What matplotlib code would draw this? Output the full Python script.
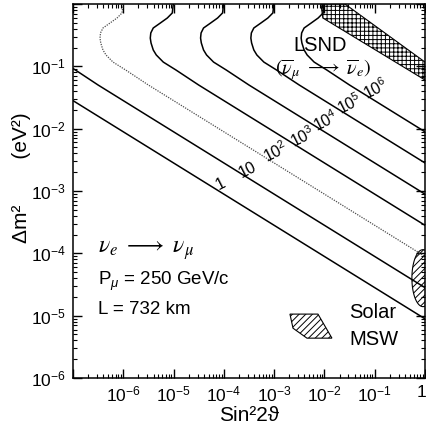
import numpy as np
import matplotlib
matplotlib.use("Agg")
import matplotlib.pyplot as plt
import matplotlib.transforms as mtransforms
from matplotlib.ticker import LogLocator, FixedLocator, FixedFormatter, NullFormatter
from matplotlib.patches import Polygon

plt.rcParams['font.family'] = ['Liberation Sans', 'DejaVu Sans']
plt.rcParams['mathtext.fontset'] = 'custom'
plt.rcParams['mathtext.rm'] = 'Liberation Sans'
plt.rcParams['mathtext.it'] = 'Liberation Sans:italic'
plt.rcParams['mathtext.sf'] = 'Liberation Sans'
plt.rcParams['hatch.linewidth'] = 0.7

# event-count contour levels
levels = [1, 10, 100, 1e3, 1e4, 1e5, 1e6]
level_labels = ['1', '10', r'$10^{2}$', r'$10^{3}$', r'$10^{4}$', r'$10^{5}$', r'$10^{6}$']

# shape of the N = 1 contour; higher levels scale linearly in sin^2(2theta)
shape_sin2 = [9.86e-9, 9.42e-9, 7.50e-9, 5.44e-9, 3.94e-9, 3.52e-9, 3.44e-9,
              3.56e-9, 3.94e-9, 4.53e-9, 6.24e-9, 1.12e-8, 3.16e-8, 1.0]
shape_dm2 = [1.0, 0.718, 0.596, 0.495, 0.412, 0.343, 0.284,
             0.237, 0.183, 0.152, 0.117, 0.0871, 0.0501, 8.9e-6]

# LSND allowed band
lsnd_sin2 = [8.5e-3, 9.3e-3, 1.0, 1.0, 0.0256]
lsnd_dm2 = [1.0, 0.596, 0.0603, 0.117, 1.0]

# solar MSW solutions
msw_small_sin2 = [2.06e-3, 7.43e-3, 1.41e-2, 4.49e-3, 2.37e-3]
msw_small_dm2 = [1.06e-5, 1.06e-5, 4.36e-6, 4.36e-6, 6.3e-6]
msw_large_center = (0.91, 4.0e-5)
msw_large_halfwidth = (0.22, 0.457)   # decades

fig = plt.figure(figsize=(4.26, 4.30), dpi=100)
ax = fig.add_axes([0.1714, 0.1209, 0.8263, 0.8698])
ax.set_xscale('log')
ax.set_yscale('log')
ax.set_xlim(1e-7, 1.0)
ax.set_ylim(1e-6, 1.0)

shape_sin2 = np.array(shape_sin2)
shape_dm2 = np.array(shape_dm2)
for n in levels:
    if n == 100:
        ax.plot(shape_sin2 * n, shape_dm2, color='0.3', lw=0.9, ls=(0, (1, 1)))
    else:
        ax.plot(shape_sin2 * n, shape_dm2, color='black', lw=1.1)

# contour labels sit just above their lines
label_sin2 = 10 ** np.array([-4.058, -3.52, -2.964, -2.427, -1.97, -1.493, -0.976])
for n, txt, s in zip(levels, level_labels, label_sin2):
    dm = 10 ** np.interp(np.log10(s), np.log10(shape_sin2[-3:] * n), np.log10(shape_dm2[-3:]))
    off = 6 if n < 100 else 9
    ax.annotate(txt, (s, dm), xytext=(0, off), textcoords='offset points',
                ha='center', va='center', rotation=27, fontsize=11.5)

ax.add_patch(Polygon(list(zip(lsnd_sin2, lsnd_dm2)), closed=True, fill=False,
                     hatch='++++', edgecolor='black', lw=0.8))
ax.add_patch(Polygon(list(zip(msw_small_sin2, msw_small_dm2)), closed=True, fill=False,
                     hatch='/////', edgecolor='black', lw=0.8))
t = np.linspace(0, 2 * np.pi, 80)
ell_s = 10 ** (np.log10(msw_large_center[0]) + msw_large_halfwidth[0] * np.cos(t))
ell_d = 10 ** (np.log10(msw_large_center[1]) + msw_large_halfwidth[1] * np.sin(t))
ax.add_patch(Polygon(list(zip(ell_s, ell_d)), closed=True, fill=False,
                     hatch='/////', edgecolor='black', lw=0.8))

# axes ticks
xt = [10.0 ** k for k in range(-7, 1)]
ax.xaxis.set_major_locator(FixedLocator(xt))
ax.xaxis.set_major_formatter(FixedFormatter(['', r'$10^{-6}$', r'$10^{-5}$', r'$10^{-4}$',
                                             r'$10^{-3}$', r'$10^{-2}$', r'$10^{-1}$', '1']))
yt = [10.0 ** k for k in range(-6, 1)]
ax.yaxis.set_major_locator(FixedLocator(yt))
ax.yaxis.set_major_formatter(FixedFormatter([r'$10^{-6}$', r'$10^{-5}$', r'$10^{-4}$',
                                             r'$10^{-3}$', r'$10^{-2}$', r'$10^{-1}$', '']))
for axis in (ax.xaxis, ax.yaxis):
    axis.set_minor_locator(LogLocator(base=10, subs=range(2, 10), numticks=20))
    axis.set_minor_formatter(NullFormatter())
ax.tick_params(which='both', direction='in', top=True, right=True, labelsize=12.5)
ax.tick_params(which='major', length=6.5, width=1.0, pad=5)
ax.tick_params(which='minor', length=3.2, width=0.8)
for sp in ax.spines.values():
    sp.set_linewidth(1.1)

# pull the last x label ("1") in from the figure edge
last = ax.get_xticklabels()[-1]
last.set_transform(last.get_transform() + mtransforms.ScaledTranslation(-4 / 100, 0, fig.dpi_scale_trans))

ax.set_xlabel('Sin²2ϑ', fontsize=15)
ax.xaxis.set_label_coords(0.5, -0.075)
ax.set_ylabel('Δm²        (eV²)', fontsize=15)
ax.yaxis.set_label_coords(-0.118, 0.535)

tr = ax.transAxes
ax.text(0.702, 0.890, 'LSND', transform=tr, ha='center', va='center', fontsize=14.5)
ax.text(0.710, 0.824, r'$(\overline{\nu}_\mu\ \longrightarrow\ \overline{\nu}_e)$', transform=tr,
        ha='center', va='center', fontsize=14.5, math_fontfamily='stix')
ax.text(0.071, 0.342, r'$\nu_e\ \longrightarrow\ \nu_\mu$', transform=tr,
        ha='left', va='center', fontsize=17, math_fontfamily='stix')
ax.text(0.071, 0.259, r'P$_\mu$ = 250 GeV/c', transform=tr, ha='left', va='center', fontsize=13.5)
ax.text(0.071, 0.182, 'L = 732 km', transform=tr, ha='left', va='center', fontsize=13.5)
ax.text(0.852, 0.176, 'Solar', transform=tr, ha='center', va='center', fontsize=14.5)
ax.text(0.855, 0.102, 'MSW', transform=tr, ha='center', va='center', fontsize=14.5)

fig.savefig('out.png', dpi=100)
